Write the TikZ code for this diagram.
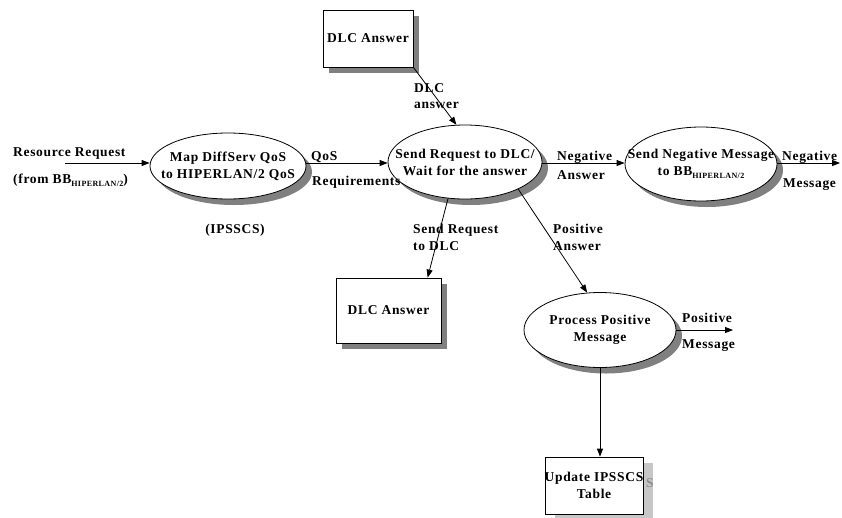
\documentclass[tikz,border=0pt]{standalone}
\usepackage{fontspec}
\setmainfont{Liberation Serif}[LetterSpace=5]
\usetikzlibrary{arrows.meta,shapes.geometric,shadows,calc}
% lowered small subscript used after "BB"
\newcommand\hlsub{\raisebox{-3.5pt}{\fontsize{8}{9}\selectfont HIPERLAN/2}}
\begin{document}
\begin{tikzpicture}[x=1pt,y=-1pt,
  every node/.style={font=\fontsize{13.5}{17}\selectfont\bfseries},
  txt/.style={align=center, inner sep=0},
  lbl/.style={anchor=base west, inner sep=0},
  castshadow/.style={drop shadow={shadow xshift=6pt, shadow yshift=-6pt, fill=black!50, opacity=1}},
  proc/.style={ellipse, draw, fill=white, inner sep=0, line width=0.8pt, castshadow},
  store/.style={rectangle, draw, fill=white, inner sep=0, line width=0.8pt},
  arr/.style={-{Triangle[length=8pt,width=6pt]}, line width=0.8pt},
]
\useasboundingbox (0,0) rectangle (842,517);

% processes
\node[proc, minimum width=156pt, minimum height=66pt,
      label={[txt]center:{Map DiffServ QoS\\to HIPERLAN/2 QoS}}] (e1) at (228,166) {};
\node[proc, minimum width=154pt, minimum height=74pt,
      label={[txt]center:{Send Request to DLC/\\Wait for the answer}}] (e2) at (465,162) {};
\node[proc, minimum width=152pt, minimum height=74pt,
      label={[txt]center:{Send Negative Message\\to BB\hlsub}}] (e3) at (701,164) {};
\node[proc, minimum width=152pt, minimum height=75pt,
      label={[txt]center:{Process Positive\\Message}}] (e4) at (600,330) {};

% data boxes
\node[store, castshadow, minimum width=90pt, minimum height=57pt,
      label={[txt]center:DLC Answer}] (b1) at (368,38.5) {};
\node[store, castshadow, minimum width=105pt, minimum height=65pt,
      label={[txt]center:DLC Answer}] (b2) at (388.5,310.5) {};
\node[store, minimum width=98pt, minimum height=57pt,
      drop shadow={shadow xshift=10pt, shadow yshift=-6pt, fill=black!22, opacity=1},
      label={[txt]center:{Update IPSSCS\\Table}}] (b3) at (594,485.5) {};
% faint echo of the caption's last letter beside the box
\begin{scope}
  \clip (b3.north east) rectangle ++(20,60);
  \node[lbl, text=black!45] (ghost) at (646,487) {S};
\end{scope}

% flows
\coordinate (inL) at (65,163);
\coordinate (negOut) at (840,163);
\coordinate (posOut) at (733,330);
\draw[arr] (inL) -- (inL -| e1.west);
\draw[arr] (e1.east |- inL) -- (e2.west |- inL);
\draw[arr] (e2.east |- inL) -- (e3.west |- inL);
\draw[arr] (e3.east |- negOut) -- (negOut);
\draw[arr] (b1.south east) -- (e2.103);
\draw[arr] (e2.245) -- ($(b2.north west)!0.87!(b2.north east)$);
\draw[arr] (e2.333) -- (e4.109);
\draw[arr] (e4.east) -- (posOut);
\draw[arr] (e4.south) -- (e4.south |- b3.north);

% flow labels
\node[lbl] (lRes)  at (13,156)  {Resource Request};
\node[lbl] (lFrom) at (13,183)  {(from BB\hlsub)};
\node[lbl] (lQoS)  at (311,160) {QoS};
\node[lbl] (lReq)  at (312,185) {Requirements};
\node[anchor=base, inner sep=0] (lIps) at (235,233) {(IPSSCS)};
\node[lbl] (lDlc1) at (414,92)  {DLC};
\node[lbl] (lDlc2) at (414,108) {answer};
\node[lbl] (lNeg1) at (557,160) {Negative};
\node[lbl] (lNeg2) at (557,179) {Answer};
\node[lbl] (lNm1)  at (782,160) {Negative};
\node[lbl] (lNm2)  at (783,187) {Message};
\node[lbl] (lSr1)  at (413,233) {Send Request};
\node[lbl] (lSr2)  at (413,250) {to DLC};
\node[lbl] (lPa1)  at (553,233) {Positive};
\node[lbl] (lPa2)  at (553,250) {Answer};
\node[lbl] (lPm1)  at (682,322) {Positive};
\node[lbl] (lPm2)  at (682,348) {Message};
\end{tikzpicture}
\end{document}
